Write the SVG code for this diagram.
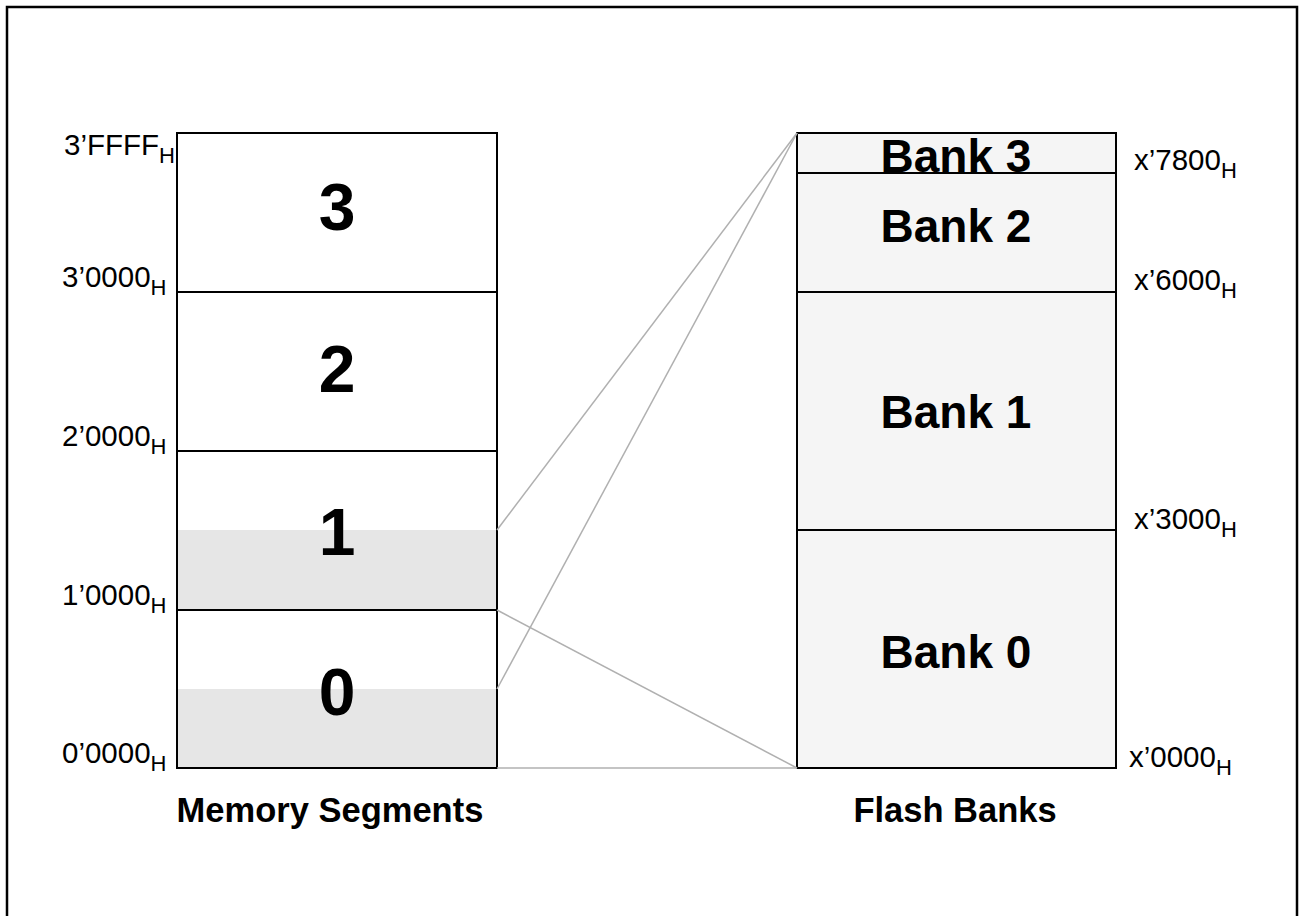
<svg xmlns="http://www.w3.org/2000/svg" width="1300" height="916" viewBox="0 0 1300 916">
<style>
.box{stroke:#000;stroke-width:2;}
.div{stroke:#000;stroke-width:2;fill:none;}
.con{stroke:#b0b0b0;stroke-width:1.5;fill:none;}
.addr{font-family:"Liberation Sans",Arial,sans-serif;font-size:29.5px;fill:#000;}
.sub{font-size:22px;}
.big{font-family:"Liberation Sans",Arial,sans-serif;font-size:66px;font-weight:bold;fill:#000;text-anchor:middle;}
.bank{font-family:"Liberation Sans",Arial,sans-serif;font-size:46px;font-weight:bold;fill:#000;text-anchor:middle;}
.title{font-family:"Liberation Sans",Arial,sans-serif;font-size:34.5px;font-weight:bold;fill:#000;text-anchor:middle;}
</style>
<rect x="0" y="0" width="1300" height="916" fill="#fff"/>
<rect x="7" y="7" width="1290" height="930" fill="none" stroke="#000" stroke-width="2.5"/>
<g id="segments">
<rect x="177" y="133" width="320" height="635" fill="#fff" class="box"/>
<rect x="178" y="530" width="318" height="80" fill="#e6e6e6"/>
<rect x="178" y="689" width="318" height="79" fill="#e6e6e6"/>
<rect x="177" y="133" width="320" height="635" fill="none" class="box"/>
<line x1="177" y1="292" x2="497" y2="292" class="div"/>
<line x1="177" y1="451" x2="497" y2="451" class="div"/>
<line x1="177" y1="610" x2="497" y2="610" class="div"/>
</g>
<g id="seg3"><text class="big" x="337" y="230">3</text></g>
<g id="seg2"><text class="big" x="337" y="392">2</text></g>
<g id="seg1"><text class="big" x="337" y="555">1</text></g>
<g id="seg0"><text class="big" x="337" y="715">0</text></g>
<g id="banks">
<rect x="797" y="133" width="319" height="635" fill="#f5f5f5" class="box"/>
<line x1="797" y1="173" x2="1116" y2="173" class="div"/>
<line x1="797" y1="292" x2="1116" y2="292" class="div"/>
<line x1="797" y1="530" x2="1116" y2="530" class="div"/>
</g>
<g id="bank3"><text class="bank" x="956" y="172">Bank 3</text></g>
<g id="bank2"><text class="bank" x="956" y="242">Bank 2</text></g>
<g id="bank1"><text class="bank" x="956" y="428">Bank 1</text></g>
<g id="bank0"><text class="bank" x="956" y="668">Bank 0</text></g>
<g id="connectors">
<line x1="497" y1="530" x2="797" y2="133" class="con"/>
<line x1="497" y1="689" x2="797" y2="133" class="con"/>
<line x1="497" y1="610" x2="797" y2="768" class="con"/>
<line x1="497" y1="768" x2="797" y2="768" class="con"/>
</g>
<g id="addr-left">
<text class="addr" x="64" y="155">3’FFFF<tspan class="sub" dy="8">H</tspan></text>
<text class="addr" x="62" y="287">3’0000<tspan class="sub" dy="8">H</tspan></text>
<text class="addr" x="62" y="446">2’0000<tspan class="sub" dy="8">H</tspan></text>
<text class="addr" x="62" y="605">1’0000<tspan class="sub" dy="8">H</tspan></text>
<text class="addr" x="62" y="763">0’0000<tspan class="sub" dy="8">H</tspan></text>
</g>
<g id="addr-right">
<text class="addr" x="1134" y="170">x’7800<tspan class="sub" dy="8">H</tspan></text>
<text class="addr" x="1134" y="290">x’6000<tspan class="sub" dy="8">H</tspan></text>
<text class="addr" x="1134" y="529">x’3000<tspan class="sub" dy="8">H</tspan></text>
<text class="addr" x="1129" y="767">x’0000<tspan class="sub" dy="8">H</tspan></text>
</g>
<g id="label-segments"><text class="title" x="330" y="822">Memory Segments</text></g>
<g id="label-banks"><text class="title" x="955" y="822">Flash Banks</text></g>
</svg>
